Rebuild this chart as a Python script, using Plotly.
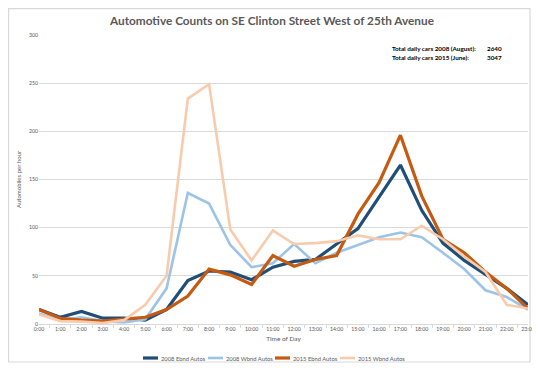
import plotly.graph_objects as go

hours = [f"{h}:00" for h in range(24)]

eb2008 = [15, 7, 13, 6, 6, 4, 15, 45, 55, 54, 46, 59, 65, 67, 83, 99, 132, 165, 118, 84, 66, 51, 37, 20]
wb2008 = [11, 4, 7, 3, 1.5, 5, 37, 136, 125, 82, 59, 63, 83, 63, 74, 82, 90, 95, 90, 74, 57, 35, 28, 15]
eb2015 = [15, 6, 4, 3, 5, 7, 15, 29, 57, 51, 41, 71, 60, 67, 71, 114, 147, 196, 133, 88, 74, 54, 37, 16]
wb2015 = [10, 3, 2.5, 1, 4, 20, 50, 234, 249, 98, 66, 97, 83, 84, 86, 92, 88, 88, 102, 88, 70, 54, 20, 16]

series = [
    ("2008 Ebnd Autos", eb2008, "#1f4e79", 3.2),
    ("2008 Wbnd Autos", wb2008, "#9dc3e6", 2.6),
    ("2015 Ebnd Autos", eb2015, "#c55a11", 3.2),
    ("2015 Wbnd Autos", wb2015, "#f8cbad", 2.6),
]

# page offset (browser body margin) compensation
O = 8
W, H = 540 - O, 374 - O
# plot area in screenshot pixels
L, R, T, B = 39, 528, 35, 324
PW, PH = R - L, B - T

def px(x):
    return (x - L) / PW

def py(y):
    return (B - y) / PH

fig = go.Figure()
for name, vals, color, w in series:
    fig.add_trace(go.Scatter(x=hours, y=vals, name=name, mode="lines",
                             line=dict(color=color, width=w), showlegend=False))

font_family = "Lato, 'Open Sans', sans-serif"

shapes = [dict(type="rect", xref="paper", yref="paper",
               x0=px(8.6), x1=px(530), y0=py(362), y1=py(8.6),
               line=dict(color="#d9d9d9", width=1.2), fillcolor="rgba(0,0,0,0)",
               layer="below")]
annotations = []

# compact legend
leg_x = [143, 208, 275, 340]
leg_y = 358
for (name, vals, color, w), lx in zip(series, leg_x):
    shapes.append(dict(type="line", xref="paper", yref="paper",
                       x0=px(lx), x1=px(lx + 15), y0=py(leg_y), y1=py(leg_y),
                       line=dict(color=color, width=w)))
    annotations.append(dict(text=name, xref="paper", yref="paper",
                            x=px(lx + 15.5), y=py(leg_y), xanchor="left", yanchor="middle",
                            showarrow=False, font=dict(size=5.8, color="#595959")))

for txt, val, yy in [("Total daily cars 2008 (August):", "2640", 48.5),
                     ("Total daily cars 2015 (June):", "3047", 57.5)]:
    annotations.append(dict(text=f"<b>{txt}</b>", xref="paper", yref="paper",
                            x=px(390), y=py(yy), xanchor="left", yanchor="middle",
                            showarrow=False, font=dict(size=6.3, color="#000000")))
    annotations.append(dict(text=f"<b>{val}</b>", xref="paper", yref="paper",
                            x=px(485), y=py(yy), xanchor="left", yanchor="middle",
                            showarrow=False, font=dict(size=6.3, color="#000000")))

annotations.append(dict(text="<b>Automotive Counts on SE Clinton Street West of 25th Avenue</b>",
                        xref="paper", yref="paper", x=px(271), y=py(20),
                        xanchor="center", yanchor="middle", showarrow=False,
                        font=dict(size=11.8, color="#595959", family=font_family)))

fig.update_layout(
    width=W, height=H,
    paper_bgcolor="white", plot_bgcolor="white",
    margin=dict(l=L - O, r=W - (R - O), t=T - O, b=H - (B - O), autoexpand=False),
    font=dict(family=font_family, color="#595959"),
    showlegend=False,
    xaxis=dict(
        type="category", showgrid=False, showline=True, linecolor="#d9d9d9",
        linewidth=1, ticks="outside", tickson="boundaries", ticklen=3,
        tickcolor="#d9d9d9", tickangle=0, automargin=False,
        tickfont=dict(size=5.2, color="#595959"),
        title=dict(text="Time of Day", font=dict(size=6.5, color="#595959"), standoff=5),
        fixedrange=True,
    ),
    yaxis=dict(
        range=[0, 300], dtick=50, showgrid=True, gridcolor="#d9d9d9", gridwidth=1,
        zeroline=False, showline=False, automargin=False,
        tickfont=dict(size=5.2, color="#595959"),
        title=dict(text="Automobiles per hour", font=dict(size=6, color="#595959"), standoff=6),
        fixedrange=True,
    ),
    shapes=shapes,
    annotations=annotations,
)

fig.write_html("out.html")
